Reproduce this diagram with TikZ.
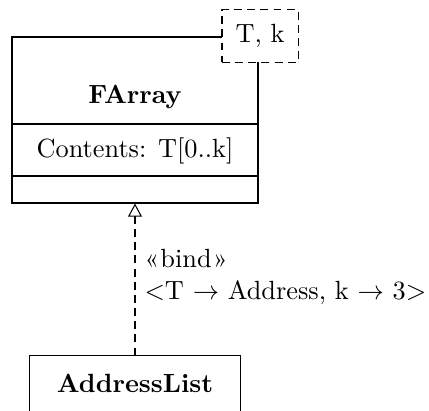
\documentclass[tikz,border=0pt]{standalone}
\usepackage{fontspec}
\usetikzlibrary{arrows.meta,fit}
\begin{document}
\begin{tikzpicture}[x=0.38pt,y=-0.38pt,
  line width=0.4pt,
  classbox/.style={draw, inner sep=0pt},
  tparam/.style={draw, dashed, dash pattern=on 3pt off 2pt, fill=white, inner sep=0pt, minimum width=28.9pt, minimum height=19.8pt},
  bindarrow/.style={draw, dash pattern=on 3pt off 2pt, -{Triangle[open, length=5pt, width=5.3pt]}},
  lbl/.style={inner sep=0pt}
]
\useasboundingbox (0,0) rectangle (429,410);
\node[classbox, fit={(12,37) (258,203)}] (fa) {};
\draw (fa.west |- 0,124) -- (fa.east |- 0,124);
\draw (fa.west |- 0,176) -- (fa.east |- 0,176);
\node[lbl] (faname) at (135,97) {\bfseries FArray};
\node[lbl] (faattr) at (135,151) {Contents: T[0..k]};
\node[tparam] (tp) at (260,36) {T, k};
% AddressList (bottom cut off)
\node[inner sep=0pt, fit={(30,356) (240,410)}] (al) {};
\draw (al.south west) -- (al.north west) -- (al.north east) -- (al.south east);
\node[lbl] (alname) at (135,383) {\bfseries AddressList};
\draw[bindarrow] (al.north) -- (fa.south);
\node[lbl, anchor=west, align=left] (bind) at (144,277) {«\kern0.5pt bind\kern0.5pt»\\$<$T $\rightarrow$ Address, k $\rightarrow$ 3$>$};
\end{tikzpicture}
\end{document}
